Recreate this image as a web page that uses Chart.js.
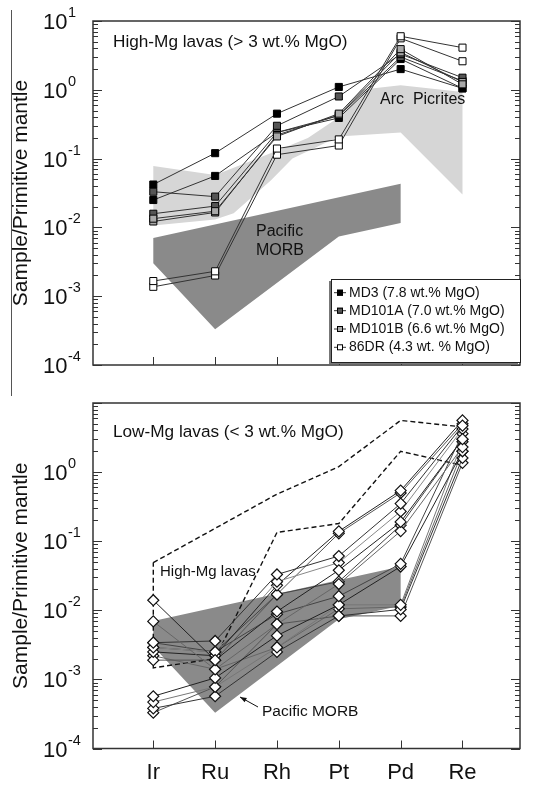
<!DOCTYPE html>
<html>
<head>
<meta charset="utf-8">
<script src="https://cdn.jsdelivr.net/npm/chart.js@4.4.1/dist/chart.umd.min.js"></script>
<style>
  body { margin: 0; background: #fff; }
  #wrap { position: relative; width: 540px; height: 785px; overflow: hidden; background: #fff; }
  #wrap canvas { position: absolute; left: 0; }
  #topChart { top: 0; }
  #lowChart { top: 392px; }
  .sideline { position: absolute; left: 11px; top: 10px; height: 386px; border-left: 1.5px solid #555; }
</style>
</head>
<body>
<div id="wrap">
  <div class="sideline"></div>
  <canvas id="topChart" width="540" height="392" style="width:540px;height:392px"></canvas>
  <canvas id="lowChart" width="540" height="393" style="width:540px;height:393px"></canvas>
</div>
<script>
var elements = ['Ir', 'Ru', 'Rh', 'Pt', 'Pd', 'Re'];
var yTickExponents = [1, 0, -1, -2, -3, -4];

// high-Mg lavas (Ir, Ru, Rh, Pt, Pd, Re), two samples per group
var md3 = [
  [0.042, 0.12, 0.45, 1.1, 2.0, 1.05],
  [0.025, 0.056, 0.24, 0.39, 2.8, 1.05]
];
var md101a = [
  [0.033, 0.028, 0.30, 0.80, 3.3, 1.5],
  [0.0158, 0.0204, 0.24, 0.42, 3.0, 1.35]
];
var md101b = [
  [0.0134, 0.0172, 0.21, 0.45, 3.9, 1.2],
  [0.0122, 0.0165, 0.22, 0.43, 3.5, 1.3]
];
var dr86 = [
  [0.00166, 0.0023, 0.14, 0.19, 6.0, 4.1],
  [0.00137, 0.0020, 0.114, 0.155, 5.6, 2.6]
];
var highMgLabels = ['MD3 (7.8 wt.% MgO)', 'MD101A (7.0 wt.% MgO)', 'MD101B (6.6 wt.% MgO)', '86DR (4.3 wt. % MgO)'];

// low-Mg lavas
var lowMg = [
  [0.014, 0.0019, 0.0096, 0.038, 0.19, 3.0],
  [0.0069, 0.0014, 0.0063, 0.024, 0.14, 2.3],
  [0.0034, 0.0036, 0.033, 0.061, 0.35, 4.7],
  [0.0029, 0.0025, 0.026, 0.049, 0.27, 4.2],
  [0.0025, 0.0022, 0.023, 0.139, 0.54, 5.6],
  [0.0019, 0.0019, 0.017, 0.13, 0.50, 5.0],
  [0.0029, 0.0025, 0.0088, 0.016, 0.047, 3.6],
  [0.00057, 0.00105, 0.0043, 0.012, 0.043, 2.0],
  [0.00047, 0.00078, 0.0029, 0.012, 0.012, 2.75],
  [0.00038, 0.00057, 0.0025, 0.0083, 0.0103, 1.6],
  [0.00033, 0.00078, 0.0063, 0.0083, 0.0083, 1.36],
  [0.0022, 0.0014, 0.0029, 0.0105, 0.0112, 2.0],
  [0.0034, 0.0025, 0.017, 0.026, 0.17, 3.0]
];

// reference fields, outline vertices (element position, value)
var arcPicritesX = [0, 1, 2, 2.5, 3, 3.35, 4, 5, 5, 4, 3, 2.25, 1.9, 1.3, 1, 0];
var arcPicritesY = [0.078, 0.058, 0.13, 0.2, 0.4, 1.0, 1.16, 0.93, 0.03, 0.24, 0.21, 0.1, 0.048, 0.016, 0.013, 0.0107];
var morbX = [0, 4, 4, 3, 1, 0];
var morbY = [0.007, 0.043, 0.0116, 0.0074, 0.00033, 0.003];
var highMgFieldX = [0, 2, 3, 4, 5, 5, 4, 3, 2, 1, 0, 0];
var highMgFieldY = [0.049, 0.48, 1.2, 5.6, 4.5, 1.25, 2.0, 0.18, 0.134, 0.002, 0.00147, 0.049];

var FONT = '"Liberation Sans", Arial, Helvetica, sans-serif';

function toPoints(xs, ys) {
  return xs.map(function (x, i) { return { x: x, y: ys[i] }; });
}

function sampleData(values) {
  return values.map(function (v, i) { return { x: i, y: v }; });
}

function fieldDataset(xs, ys, color) {
  return {
    data: toPoints(xs, ys),
    showLine: true,
    fill: 'shape',
    backgroundColor: color,
    borderColor: color,
    borderWidth: 0,
    pointRadius: 0,
    order: 10
  };
}

function drawText(ctx, str, x, y, size, align) {
  ctx.font = size + 'px ' + FONT;
  ctx.textAlign = align || 'left';
  ctx.textBaseline = 'middle';
  ctx.fillStyle = '#111';
  ctx.fillText(str, x, y);
}

var framePlugin = {
  id: 'frame',
  afterDraw: function (chart) {
    var cfg = chart.options.plugins.frame;
    var ctx = chart.ctx;
    var a = chart.chartArea;
    var xs = chart.scales.x;
    var ys = chart.scales.y;
    ctx.save();

    // box and inward ticks
    ctx.strokeStyle = '#333';
    ctx.lineWidth = 1.5;
    ctx.strokeRect(a.left, a.top, a.right - a.left, a.bottom - a.top);
    ctx.lineWidth = 1;
    ctx.beginPath();
    for (var e = -4; e <= 1; e++) {
      for (var m = 1; m <= 9; m++) {
        if (e === 1 && m > 1) break;
        var py = Math.round(ys.getPixelForValue(m * Math.pow(10, e))) + 0.5;
        var len = m === 1 ? 9 : 5;
        ctx.moveTo(a.left, py); ctx.lineTo(a.left + len, py);
        ctx.moveTo(a.right, py); ctx.lineTo(a.right - len, py);
      }
    }
    elements.forEach(function (el, i) {
      var px = Math.round(xs.getPixelForValue(i)) + 0.5;
      ctx.moveTo(px, a.bottom); ctx.lineTo(px, a.bottom - 8);
    });
    ctx.stroke();

    // y tick labels 10^n
    yTickExponents.forEach(function (e) {
      if (cfg.skipTopLabel && e === 1) return;
      var py = ys.getPixelForValue(Math.pow(10, e));
      drawText(ctx, '10', 43, py + 2, 22);
      var w = ctx.measureText('10').width;
      drawText(ctx, e < 0 ? '-' + (-e) : String(e), 43 + w + 0.5, py - 8, 14.5);
    });

    // x tick labels
    if (cfg.xLabels) {
      elements.forEach(function (el, i) {
        drawText(ctx, el, xs.getPixelForValue(i), cfg.xLabelY, 22, 'center');
      });
    }

    // axis title
    ctx.save();
    ctx.translate(21, (a.top + a.bottom) / 2);
    ctx.rotate(-Math.PI / 2);
    drawText(ctx, 'Sample/Primitive mantle', 0, 0, 21, 'center');
    ctx.restore();

    cfg.texts.forEach(function (t) {
      drawText(ctx, t.text, t.x, t.y, t.size, t.align);
    });

    if (cfg.arrow) {
      var ar = cfg.arrow;
      ctx.strokeStyle = '#111';
      ctx.fillStyle = '#111';
      ctx.lineWidth = 1;
      ctx.beginPath();
      ctx.moveTo(ar.x1, ar.y1); ctx.lineTo(ar.x2, ar.y2);
      ctx.stroke();
      var ang = Math.atan2(ar.y2 - ar.y1, ar.x2 - ar.x1);
      ctx.beginPath();
      ctx.moveTo(ar.x2, ar.y2);
      ctx.lineTo(ar.x2 - 7 * Math.cos(ang - 0.35), ar.y2 - 7 * Math.sin(ang - 0.35));
      ctx.lineTo(ar.x2 - 7 * Math.cos(ang + 0.35), ar.y2 - 7 * Math.sin(ang + 0.35));
      ctx.closePath();
      ctx.fill();
    }

    // legend box for the high-Mg samples
    if (cfg.legend) {
      var lg = cfg.legend;
      ctx.fillStyle = '#777';
      ctx.fillRect(lg.left - 2, lg.top + 2, lg.right - lg.left, lg.bottom - lg.top);
      ctx.fillStyle = '#fff';
      ctx.fillRect(lg.left, lg.top, lg.right - lg.left, lg.bottom - lg.top);
      ctx.strokeStyle = '#222';
      ctx.strokeRect(lg.left + 0.5, lg.top + 0.5, lg.right - lg.left, lg.bottom - lg.top);
      highMgLabels.forEach(function (label, i) {
        var ds = chart.data.datasets[i * 2];
        var ry = lg.rows[i];
        ctx.strokeStyle = '#333';
        ctx.beginPath();
        ctx.moveTo(lg.left + 3, ry); ctx.lineTo(lg.left + 15, ry);
        ctx.stroke();
        ctx.fillStyle = ds.pointBackgroundColor;
        ctx.fillRect(lg.left + 6, ry - 3, 6, 6);
        ctx.strokeStyle = '#000';
        ctx.strokeRect(lg.left + 6.5, ry - 2.5, 5, 5);
        drawText(ctx, label, lg.left + 18, ry, 14);
      });
    }
    ctx.restore();
  }
};

function baseOptions(padding, frame) {
  return {
    responsive: false,
    animation: false,
    events: [],
    layout: { padding: padding },
    scales: {
      x: { type: 'linear', min: -0.975, max: 5.93, display: false },
      y: { type: 'logarithmic', min: 1e-4, max: 10, display: false }
    },
    plugins: {
      legend: { display: false },
      tooltip: { enabled: false },
      frame: frame
    }
  };
}

// upper panel
var topDatasets = [];
var groups = [md3, md101a, md101b, dr86];
var groupFill = ['#000000', '#555555', '#a9a9a9', '#ffffff'];
groups.forEach(function (group, g) {
  group.forEach(function (values) {
    topDatasets.push({
      data: sampleData(values),
      showLine: true,
      borderColor: '#333',
      borderWidth: 1,
      pointStyle: 'rect',
      pointRadius: 5,
      pointBackgroundColor: groupFill[g],
      pointBorderColor: '#000',
      pointBorderWidth: 1,
      order: 3 - g
    });
  });
});
topDatasets.push(fieldDataset(arcPicritesX, arcPicritesY, '#d6d6d6'));
topDatasets.push(fieldDataset(morbX, morbY, '#8a8a8a'));

new Chart(document.getElementById('topChart'), {
  type: 'scatter',
  data: { datasets: topDatasets },
  options: baseOptions({ left: 93, right: 20, top: 21, bottom: 27 }, {
    skipTopLabel: false,
    xLabels: false,
    texts: [
      { text: 'High-Mg lavas (> 3 wt.% MgO)', x: 113, y: 42, size: 17.2 },
      { text: 'Arc  Picrites', x: 380, y: 100, size: 16 },
      { text: 'Pacific', x: 256, y: 232, size: 16 },
      { text: 'MORB', x: 256, y: 251, size: 16 }
    ],
    legend: { left: 331, top: 279, right: 520, bottom: 362, rows: [292.7, 310.7, 329, 347.3] }
  }),
  plugins: [framePlugin]
});

// lower panel
var lowColors = ['#222', '#666', '#333', '#888', '#222', '#555', '#444', '#222', '#777', '#333', '#555', '#666', '#444'];
var lowDatasets = lowMg.map(function (values, i) {
  return {
    data: sampleData(values),
    showLine: true,
    borderColor: lowColors[i % lowColors.length],
    borderWidth: 1,
    pointStyle: 'rectRot',
    pointRadius: 5.5,
    pointBackgroundColor: '#fff',
    pointBorderColor: '#111',
    pointBorderWidth: 1.2,
    order: 0
  };
});
lowDatasets.push({
  data: toPoints(highMgFieldX, highMgFieldY),
  showLine: true,
  fill: false,
  borderColor: '#111',
  borderWidth: 1.4,
  borderDash: [5, 3],
  pointRadius: 0,
  order: 5
});
lowDatasets.push(fieldDataset(morbX, morbY, '#8a8a8a'));

new Chart(document.getElementById('lowChart'), {
  type: 'scatter',
  data: { datasets: lowDatasets },
  options: baseOptions({ left: 93, right: 20, top: 11, bottom: 36.5 }, {
    skipTopLabel: true,
    xLabels: true,
    xLabelY: 381,
    texts: [
      { text: 'Low-Mg lavas (< 3 wt.% MgO)', x: 113, y: 40, size: 17.2 },
      { text: 'High-Mg lavas', x: 160, y: 180, size: 15 },
      { text: 'Pacific MORB', x: 262, y: 320, size: 15.5 }
    ],
    arrow: { x1: 258, y1: 315, x2: 240, y2: 305 }
  }),
  plugins: [framePlugin]
});
</script>
</body>
</html>
